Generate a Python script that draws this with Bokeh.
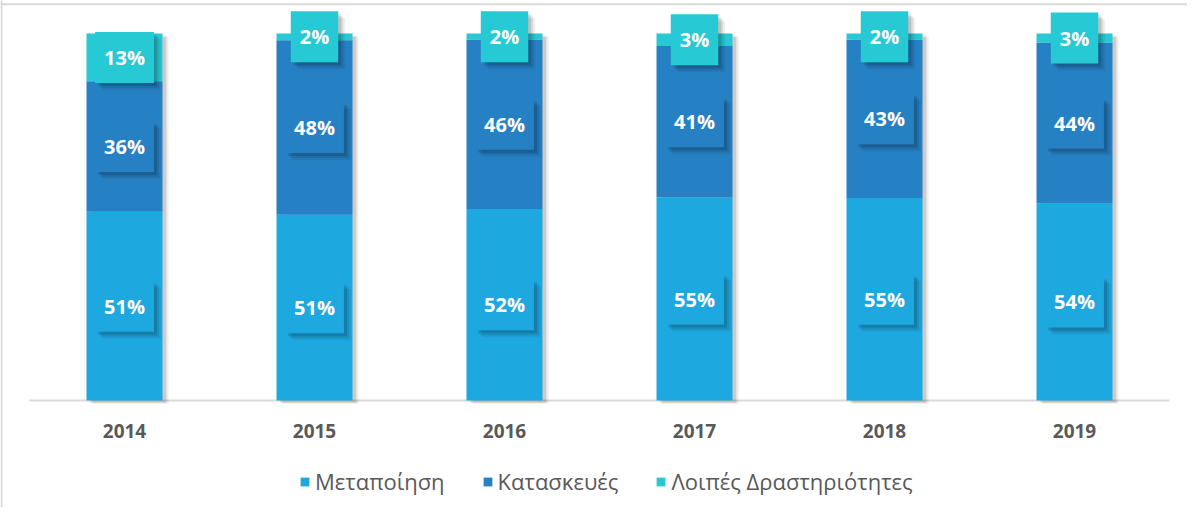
from bokeh.plotting import figure
from bokeh.models import Range1d, Span, ColumnDataSource, Legend, LegendItem
from bokeh.core.properties import value
from bokeh.embed import file_html
from bokeh.resources import INLINE

# ---- data ----
years = ["2014", "2015", "2016", "2017", "2018", "2019"]
metapoiisi = [51.4, 50.6, 52.2, 55.3, 55.2, 53.7]
kataskeues = [35.6, 47.6, 46.1, 41.3, 43.1, 43.8]
loipes = [13.0, 1.8, 1.7, 3.4, 1.7, 2.5]
labels_m = ["51%", "51%", "52%", "55%", "55%", "54%"]
labels_k = ["36%", "48%", "46%", "41%", "43%", "44%"]
labels_l = ["13%", "2%", "2%", "3%", "2%", "3%"]
series_names = ["Μεταποίηση", "Κατασκευές", "Λοιπές Δραστηριότητες"]
colors = ["#1EA8E0", "#2680C4", "#27C9D4"]

# ---- derived ----
xs = [i + 0.5 for i in range(len(years))]
tot = [a + b + c for a, b, c in zip(metapoiisi, kataskeues, loipes)]
ym = [a / 2 for a in metapoiisi]
yk = [a + b / 2 for a, b in zip(metapoiisi, kataskeues)]
yl = [a + b + c / 2 for a, b, c in zip(metapoiisi, kataskeues, loipes)]

src = ColumnDataSource(dict(
    x=xs, year=years, m=metapoiisi, k=kataskeues, l=loipes, tot=tot,
    ym=ym, yk=yk, yl=yl, lm=labels_m, lk=labels_k, ll=labels_l,
    xs1=[x + 0.02 for x in xs], xs2=[x + 0.032 for x in xs],
    ts=[t - 0.8 for t in tot],
))

W, H = 1187, 507
x0, x1 = -0.1526, 6.0947
y0, y1 = -29.16, 109.0

p = figure(width=W, height=H, x_range=Range1d(x0, x1), y_range=Range1d(y0, y1),
           output_backend="svg", toolbar_location=None, min_border=0,
           x_axis_type=None, y_axis_type=None)
p.grid.visible = False
p.outline_line_color = None
p.background_fill_color = "white"
p.border_fill_color = "white"

# borders (left / top)
p.add_layout(Span(location=x0 + 1.0 / 190, dimension="height", line_color="#d9d9d9", line_width=2))
p.add_layout(Span(location=108.0, dimension="width", line_color="#d9d9d9", line_width=2))

# baseline
p.line(x=[0, 6], y=[0, 0], line_color="#d9d9d9", line_width=2)

# bar shadows
p.vbar(x="xs2", width=0.4, top="ts", bottom=-0.9, source=src, fill_color="black", fill_alpha=0.07, line_color=None)
p.vbar(x="xs1", width=0.4, top="ts", bottom=-0.6, source=src, fill_color="black", fill_alpha=0.14, line_color=None)

rs = p.vbar_stack(["m", "k", "l"], x="x", width=0.4, color=colors, line_color=None, source=src)

# data labels with shadowed boxes
font = value("Open Sans")
pad = (9, 12)
for ycol, tcol, col in [("ym", "lm", colors[0]), ("yk", "lk", colors[1]), ("yl", "ll", colors[2])]:
    for off, alpha in [(7, 0.06), (5, 0.09), (3, 0.12)]:
        p.text(x="x", y=ycol, text=tcol, source=src, text_font=font, text_font_style="bold",
               text_font_size="20px", text_align="center", text_baseline="middle",
               text_alpha=0, background_fill_color="black", background_fill_alpha=alpha,
               padding=pad, x_offset=off, y_offset=off)
    p.text(x="x", y=ycol, text=tcol, source=src, text_font=font, text_font_style="bold",
           text_font_size="20px", text_color="white", text_align="center", text_baseline="middle",
           background_fill_color=col, padding=pad)

# year labels
p.text(x="x", y=-8.2, text="year", source=src, text_font=font, text_font_style="bold",
       text_font_size="19px", text_color="#595959", text_align="center", text_baseline="middle")

legend = Legend(items=[LegendItem(label=n, renderers=[r]) for n, r in zip(series_names, rs)],
                orientation="horizontal", location=(299, 11), border_line_color=None,
                background_fill_alpha=0, label_text_font="Open Sans", label_text_font_size="22px",
                label_text_color="#595959", glyph_width=11, glyph_height=11, label_standoff=5,
                spacing=37, padding=0, margin=0)
p.add_layout(legend)

open("out.html", "w").write(file_html(p, INLINE))
